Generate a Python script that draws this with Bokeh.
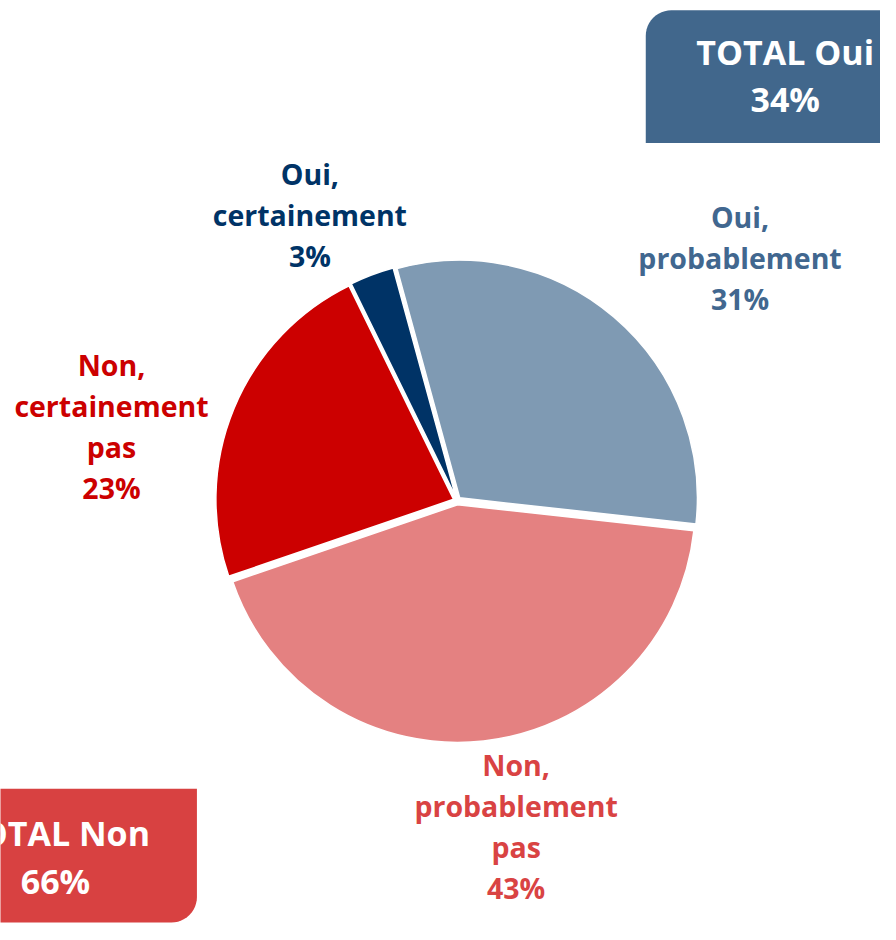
import math
from bokeh.plotting import figure
from bokeh.models import Range1d, ColumnDataSource
from bokeh.core.properties import value
from bokeh.embed import file_html
from bokeh.resources import INLINE

# ---- data ----
categories = ["Oui,\ncertainement", "Oui,\nprobablement", "Non,\nprobablement\npas", "Non,\ncertainement\npas"]
percents = [3, 31, 43, 23]
slice_colors = ["#003366", "#7F9AB3", "#E48181", "#CC0000"]
label_colors = ["#003366", "#41678F", "#D94343", "#CC0000"]
totals_labels = ["TOTAL Oui", "TOTAL Non"]
totals_values = [34, 66]
totals_colors = ["#41678C", "#D84141"]

W, H = 880, 924
FONT = "Open Sans"

def Y(py):
    return 940 - py

p = figure(width=W, height=H, output_backend="svg", toolbar_location=None,
           x_range=Range1d(0, 896), y_range=Range1d(0, 940),
           min_border=0)
p.axis.visible = False
p.grid.visible = False
p.outline_line_color = None
p.background_fill_color = "white"

# ---- pie ----
cx, cy, R, explode = 465, Y(509), 242, 4
start = 116.1  # degrees, clockwise layout
a = start
xs, ys, sa, ea = [], [], [], []
for v in percents:
    sweep = v / 100 * 360
    a_end = a - sweep
    mid = math.radians((a + a_end) / 2)
    xs.append(cx + explode * math.cos(mid))
    ys.append(cy + explode * math.sin(mid))
    sa.append(math.radians(a_end))
    ea.append(math.radians(a))
    a = a_end
src = ColumnDataSource(dict(x=xs, y=ys, s=sa, e=ea, c=slice_colors))
p.wedge(x="x", y="y", radius=R, start_angle="s", end_angle="e", fill_color="c",
        line_color="white", line_width=1.5, source=src)

# ---- slice labels ----
label_pos = [(315, 218.5), (753, 262), (525, 840.5), (113, 433.5)]
for cat, v, col, (lx, ly) in zip(categories, percents, label_colors, label_pos):
    p.text(x=[lx], y=[Y(ly)], text=[f"{cat}\n{v}%"], text_color=col,
           text_font=value(FONT), text_font_style="bold", text_font_size="28.5px",
           text_align="center", text_baseline="middle", text_line_height=1.08)

# ---- total boxes ----
def rounded_box(x0, x1, y0, y1, r, corner):
    pts = []
    n = 12
    if corner == "tl":
        pts += [(x1, y1), (x0, y1), (x0, y0 + r)]
        for i in range(n + 1):
            t = math.pi - (math.pi / 2) * i / n
            pts.append((x0 + r + r * math.cos(t), y0 + r - r * math.sin(t)))
        pts += [(x1, y0)]
    else:
        pts += [(x0, y0), (x1, y0), (x1, y1 - r)]
        for i in range(n + 1):
            t = -(math.pi / 2) * i / n
            pts.append((x1 - r + r * math.cos(t), y1 - r - r * math.sin(t)))
        pts += [(x0, y1)]
    return [q[0] for q in pts], [Y(q[1]) for q in pts]

bx, by = rounded_box(657, 900, 10, 145, 26, "tl")
p.patch(bx, by, fill_color=totals_colors[0], line_color=None)
bx, by = rounded_box(-4, 200, 802, 938, 26, "br")
p.patch(bx, by, fill_color=totals_colors[1], line_color=None)

box_pos = [(799, 76), (56, 871.5)]
for lab, v, (tx, ty) in zip(totals_labels, totals_values, box_pos):
    p.text(x=[tx], y=[Y(ty)], text=[f"{lab}\n{v}%"], text_color="white",
           text_font=value(FONT), text_font_style="bold", text_font_size="34px",
           text_align="center", text_baseline="middle", text_line_height=1.03)

open("out.html", "w").write(file_html(p, INLINE))
